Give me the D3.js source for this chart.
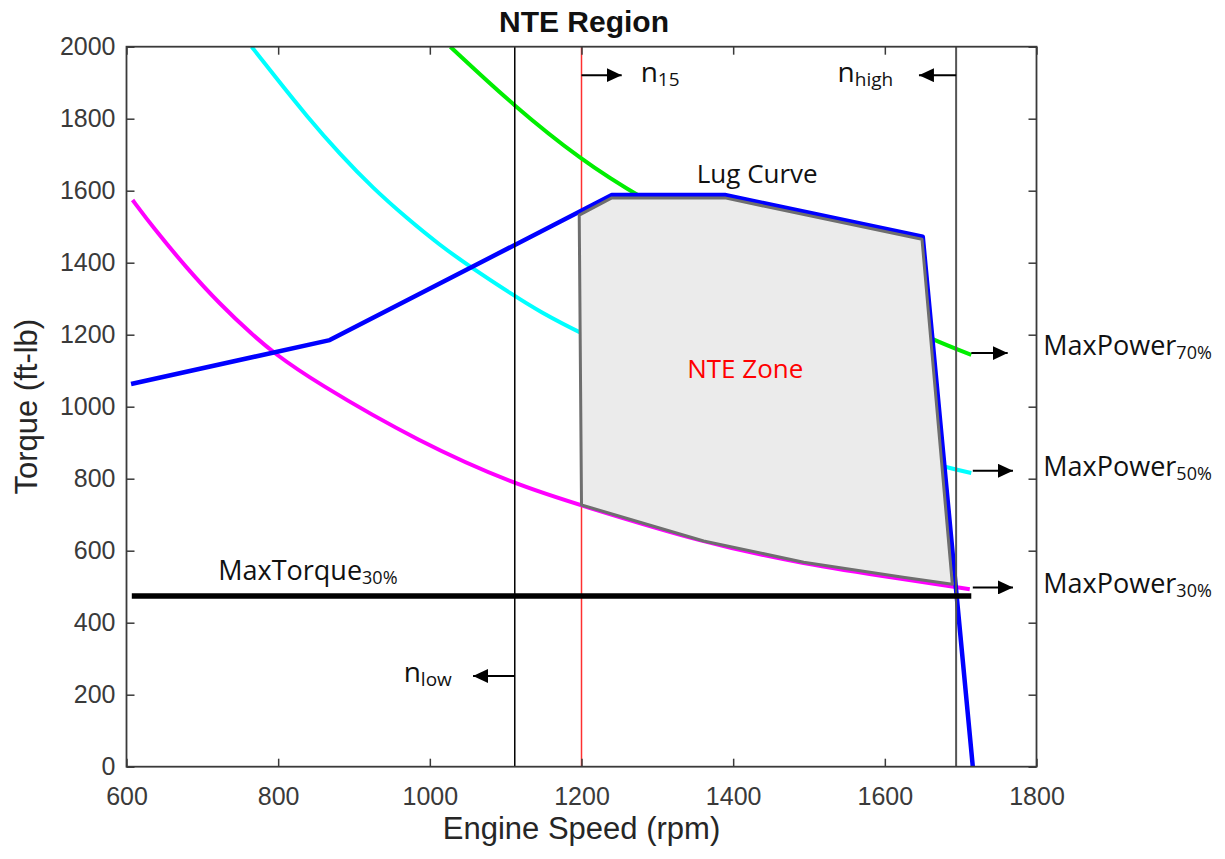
<!DOCTYPE html>
<html>
<head>
<meta charset="utf-8">
<script src="https://cdn.jsdelivr.net/npm/d3@7"></script>
<style>
  body { margin: 0; background: #fff; }
  svg { display: block; }
  .tick text { font-family: "Liberation Sans", Arial, sans-serif; font-size: 25px; fill: #3a3a3a; }
  .ann { font-family: "Open Sans", sans-serif; fill: #111; }
</style>
</head>
<body>
<svg id="chart" width="1225" height="859"></svg>
<script>
// lug curve (blue)
var lugRpm    = [606, 868, 1240, 1389, 1650, 1716];
var lugTorque = [1063, 1185, 1588, 1588, 1472, 0];

// max power 30% (magenta)
var p30Rpm    = [608, 635, 679, 723, 767, 794, 846, 987, 1115, 1198, 1361, 1493, 1624, 1712];
var p30Torque = [1574, 1498, 1386, 1285, 1198, 1150, 1072, 900, 782, 727, 622, 563, 521, 493];

// max power 50% (cyan)
var p50Rpm    = [765, 794, 838, 882, 925, 970, 1013, 1053, 1110, 1145, 1198, 1300, 1400, 1500, 1600, 1679, 1714];
var p50Torque = [2000, 1922, 1806, 1700, 1607, 1523, 1449, 1389, 1310, 1264, 1205, 1105, 1020, 948, 880, 832, 816];

// max power 70% (green)
var p70Rpm    = [1027, 1112, 1200, 1273, 1400, 1500, 1600, 1664, 1714];
var p70Torque = [2000, 1833, 1685, 1586, 1440, 1345, 1250, 1185, 1144];

// NTE zone outline
var zoneRpm    = [1197, 1240, 1389, 1649, 1689, 1624, 1493, 1361, 1200];
var zoneTorque = [1532, 1580, 1580, 1465, 507, 526, 568, 627, 727];

// limits
var nLow = 1112, n15 = 1200, nHigh = 1694;
var maxTorque30 = 474, maxTorqueFrom = 607, maxTorqueTo = 1714;

var xTicks = [600, 800, 1000, 1200, 1400, 1600, 1800];
var yTicks = [0, 200, 400, 600, 800, 1000, 1200, 1400, 1600, 1800, 2000];

var svg = d3.select("#chart"),
    margin = {top: 46.7, right: 188.5, bottom: 92.3, left: 126.5},
    width = +svg.attr("width") - margin.left - margin.right,
    height = +svg.attr("height") - margin.top - margin.bottom,
    g = svg.append("g").attr("transform", "translate(" + margin.left + "," + margin.top + ")");

var x = d3.scaleLinear().domain([600, 1800]).range([0, width]);
var y = d3.scaleLinear().domain([0, 2000]).range([height, 0]);

svg.append("defs").append("clipPath").attr("id", "clip")
  .append("rect").attr("width", width).attr("height", height);

svg.select("defs").append("marker")
    .attr("id", "arrow")
    .attr("markerUnits", "userSpaceOnUse")
    .attr("markerWidth", 16).attr("markerHeight", 14)
    .attr("refX", 15).attr("refY", 7)
    .attr("orient", "auto")
  .append("path")
    .attr("d", "M0,0 L15,7 L0,14 Z")
    .attr("fill", "#000");

function zipPts(xs, ys) {
  return xs.map(function(v, i) { return [v, ys[i]]; });
}

var line = d3.line()
  .x(function(d) { return x(d[0]); })
  .y(function(d) { return y(d[1]); });

var smooth = d3.line()
  .curve(d3.curveBasis)
  .x(function(d) { return x(d[0]); })
  .y(function(d) { return y(d[1]); });

var plot = g.append("g").attr("clip-path", "url(#clip)");

// red n15 line sits under the zone
plot.append("line")
  .attr("x1", x(n15)).attr("x2", x(n15))
  .attr("y1", 0).attr("y2", height)
  .attr("stroke", "#ff3030").attr("stroke-width", 1.5);

plot.append("path").datum(zipPts(p30Rpm, p30Torque))
  .attr("fill", "none").attr("stroke", "#ff00ff").attr("stroke-width", 4)
  .attr("d", smooth);

plot.append("path").datum(zipPts(p50Rpm, p50Torque))
  .attr("fill", "none").attr("stroke", "#00ffff").attr("stroke-width", 4)
  .attr("d", smooth);

plot.append("path").datum(zipPts(p70Rpm, p70Torque))
  .attr("fill", "none").attr("stroke", "#00ee00").attr("stroke-width", 4)
  .attr("d", smooth);

plot.append("path").datum(zipPts(lugRpm, lugTorque))
  .attr("fill", "none").attr("stroke", "#0000ff").attr("stroke-width", 4.5)
  .attr("stroke-linejoin", "round")
  .attr("d", line);

plot.append("path").datum(zipPts(zoneRpm, zoneTorque))
  .attr("fill", "#ebebeb").attr("stroke", "#6e6e6e").attr("stroke-width", 3)
  .attr("stroke-linejoin", "round")
  .attr("d", function(d) { return line(d) + "Z"; });

plot.append("line")
  .attr("x1", x(nLow)).attr("x2", x(nLow))
  .attr("y1", 0).attr("y2", height)
  .attr("stroke", "#000").attr("stroke-width", 1.5);

plot.append("line")
  .attr("x1", x(nHigh)).attr("x2", x(nHigh))
  .attr("y1", 0).attr("y2", height)
  .attr("stroke", "#555").attr("stroke-width", 2);

plot.append("line")
  .attr("x1", x(maxTorqueFrom)).attr("x2", x(maxTorqueTo))
  .attr("y1", y(maxTorque30)).attr("y2", y(maxTorque30))
  .attr("stroke", "#000").attr("stroke-width", 5.5);

// arrows: [fromRpm, toRpm, torque]
var arrows = [
  [n15, 1253, 1921],
  [nHigh, 1645, 1921],
  [nLow, 1057, 252],
  [1714, 1762, 1149],
  [1716, 1769, 822],
  [1716, 1769, 498]
];
g.selectAll(".arr").data(arrows).enter().append("line")
  .attr("class", "arr")
  .attr("x1", function(d) { return x(d[0]); })
  .attr("x2", function(d) { return x(d[1]); })
  .attr("y1", function(d) { return y(d[2]); })
  .attr("y2", function(d) { return y(d[2]); })
  .attr("stroke", "#000").attr("stroke-width", 2)
  .attr("marker-end", "url(#arrow)");

// labels: [main, sub, rpm, torque, anchor, size, subSize, color]
var labels = [
  ["Lug Curve", "", 1352, 1620, "start", 26, 0, "#111"],
  ["NTE Zone", "", 1416, 1080, "middle", 26, 0, "#ff0000"],
  ["MaxTorque", "30%", 721, 519, "start", 27, 18, "#111"],
  ["MaxPower", "70%", 1809, 1144, "start", 27, 18, "#111"],
  ["MaxPower", "50%", 1809, 808, "start", 27, 18, "#111"],
  ["MaxPower", "30%", 1809, 482, "start", 27, 18, "#111"],
  ["n", "15", 1278, 1903, "start", 28, 19, "#111"],
  ["n", "high", 1611, 1903, "end", 28, 19, "#111"],
  ["n", "low", 1029, 236, "end", 28, 19, "#111"]
];
labels.forEach(function(l) {
  var t = g.append("text").attr("class", "ann")
    .attr("x", x(l[2])).attr("y", y(l[3]))
    .attr("text-anchor", l[4])
    .style("font-size", l[5] + "px")
    .style("fill", l[7]);
  t.append("tspan").text(l[0]);
  if (l[1]) t.append("tspan").attr("dy", 4).style("font-size", l[6] + "px").text(l[1]);
});

// axes, ticks pointing inward on all four sides
var axisColor = "#3a3a3a";
g.append("g").attr("transform", "translate(0," + height + ")")
  .call(d3.axisBottom(x).tickValues(xTicks).tickFormat(d3.format("d"))
    .tickSizeInner(-8).tickSizeOuter(0).tickPadding(20.5));
g.append("g")
  .call(d3.axisLeft(y).tickValues(yTicks).tickFormat(d3.format("d"))
    .tickSizeInner(-8).tickSizeOuter(0).tickPadding(11));
g.append("g")
  .call(d3.axisTop(x).tickValues(xTicks).tickSizeInner(-8).tickSizeOuter(0).tickFormat(""));
g.append("g").attr("transform", "translate(" + width + ",0)")
  .call(d3.axisRight(y).tickValues(yTicks).tickSizeInner(-8).tickSizeOuter(0).tickFormat(""));
g.selectAll(".domain").remove();
g.selectAll(".tick line").attr("stroke", axisColor).attr("stroke-width", 1.5);
g.append("rect").attr("width", width).attr("height", height)
  .attr("fill", "none").attr("stroke", axisColor).attr("stroke-width", 1.8);

svg.append("text")
  .attr("x", 584).attr("y", 31.5)
  .attr("text-anchor", "middle")
  .style("font-family", "'Liberation Sans', Arial, sans-serif")
  .style("font-size", "30px").style("font-weight", "bold")
  .style("fill", "#111")
  .text("NTE Region");

svg.append("text")
  .attr("x", margin.left + width / 2).attr("y", 839)
  .attr("text-anchor", "middle")
  .style("font-family", "'Liberation Sans', Arial, sans-serif")
  .style("font-size", "31px").style("fill", "#262626")
  .text("Engine Speed (rpm)");

svg.append("text")
  .attr("transform", "translate(37," + (margin.top + height / 2) + ") rotate(-90)")
  .attr("text-anchor", "middle")
  .style("font-family", "'Liberation Sans', Arial, sans-serif")
  .style("font-size", "31px").style("fill", "#262626")
  .text("Torque (ft-lb)");
</script>
</body>
</html>
